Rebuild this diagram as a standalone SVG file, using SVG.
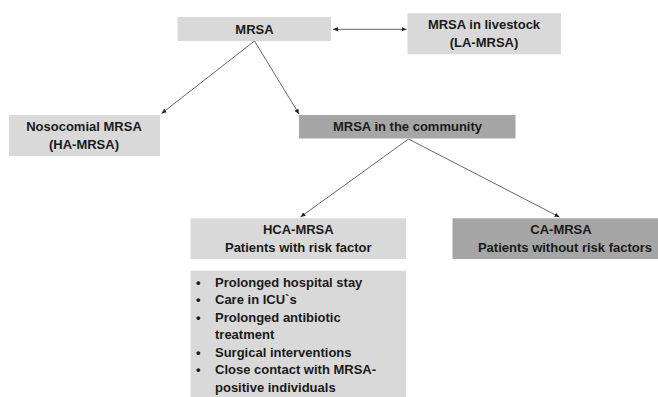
<svg xmlns="http://www.w3.org/2000/svg" width="658" height="397" viewBox="0 0 658 397">
  <style>
    .light { fill: #d9d9d9; }
    .dark { fill: #a6a6a6; }
    text { font-family: "Liberation Sans", Arial, sans-serif; font-size: 13px; font-weight: bold; fill: #1a1a1a; }
    .c { text-anchor: middle; }
    .conn { stroke: #404040; stroke-width: 0.8; fill: none; }
  </style>
  <defs>
    <marker id="arr" markerUnits="userSpaceOnUse" markerWidth="6" markerHeight="6" refX="5" refY="3" orient="auto-start-reverse">
      <path d="M0,0.8 L5,3 L0,5.2 Z" fill="#262626"/>
    </marker>
  </defs>
  <rect width="658" height="397" fill="#ffffff"/>

  <g id="connectors">
    <line class="conn" x1="333" y1="29.3" x2="406.5" y2="29.3" marker-start="url(#arr)" marker-end="url(#arr)"/>
    <line class="conn" x1="254.5" y1="41" x2="161.5" y2="113.5" marker-end="url(#arr)"/>
    <line class="conn" x1="254.5" y1="41" x2="299" y2="114" marker-end="url(#arr)"/>
    <line class="conn" x1="408.5" y1="139" x2="300.5" y2="217" marker-end="url(#arr)"/>
    <line class="conn" x1="408.5" y1="139" x2="559.5" y2="217" marker-end="url(#arr)"/>
  </g>

  <g id="mrsa">
    <rect class="light" x="177.5" y="17" width="153.5" height="24"/>
    <text class="c" x="254.5" y="33.5">MRSA</text>
  </g>

  <g id="la-mrsa">
    <rect class="light" x="407.5" y="13.3" width="153.5" height="41"/>
    <text class="c" x="484" y="29.3">MRSA in livestock</text>
    <text class="c" x="484" y="47.3">(LA-MRSA)</text>
  </g>

  <g id="ha-mrsa">
    <rect class="light" x="9" y="115" width="151" height="41"/>
    <text class="c" x="84" y="131">Nosocomial MRSA</text>
    <text class="c" x="84" y="149">(HA-MRSA)</text>
  </g>

  <g id="community">
    <rect class="dark" x="299" y="115" width="216.5" height="23.5"/>
    <text class="c" x="407.5" y="131">MRSA in the community</text>
  </g>

  <g id="hca-mrsa">
    <rect class="light" x="190.5" y="218.3" width="215.5" height="40.7"/>
    <text class="c" x="298.3" y="234.3">HCA-MRSA</text>
    <text class="c" x="298.3" y="252">Patients with risk factor</text>
  </g>

  <g id="ca-mrsa">
    <rect class="dark" x="452.5" y="218.3" width="205.5" height="40.7"/>
    <text class="c" x="561" y="234.3">CA-MRSA</text>
    <text class="c" x="565" y="252">Patients without risk factors</text>
  </g>

  <g id="risk-factors">
    <rect class="light" x="190.5" y="270.7" width="215.5" height="126.3"/>
    <text x="196" y="286.7">•</text>
    <text x="215" y="286.7">Prolonged hospital stay</text>
    <text x="196" y="304.2">•</text>
    <text x="215" y="304.2">Care in ICU`s</text>
    <text x="196" y="321.7">•</text>
    <text x="215" y="321.7">Prolonged antibiotic</text>
    <text x="215" y="339.2">treatment</text>
    <text x="196" y="356.7">•</text>
    <text x="215" y="356.7">Surgical interventions</text>
    <text x="196" y="374.2">•</text>
    <text x="215" y="374.2">Close contact with MRSA-</text>
    <text x="215" y="391.7">positive individuals</text>
  </g>
</svg>
